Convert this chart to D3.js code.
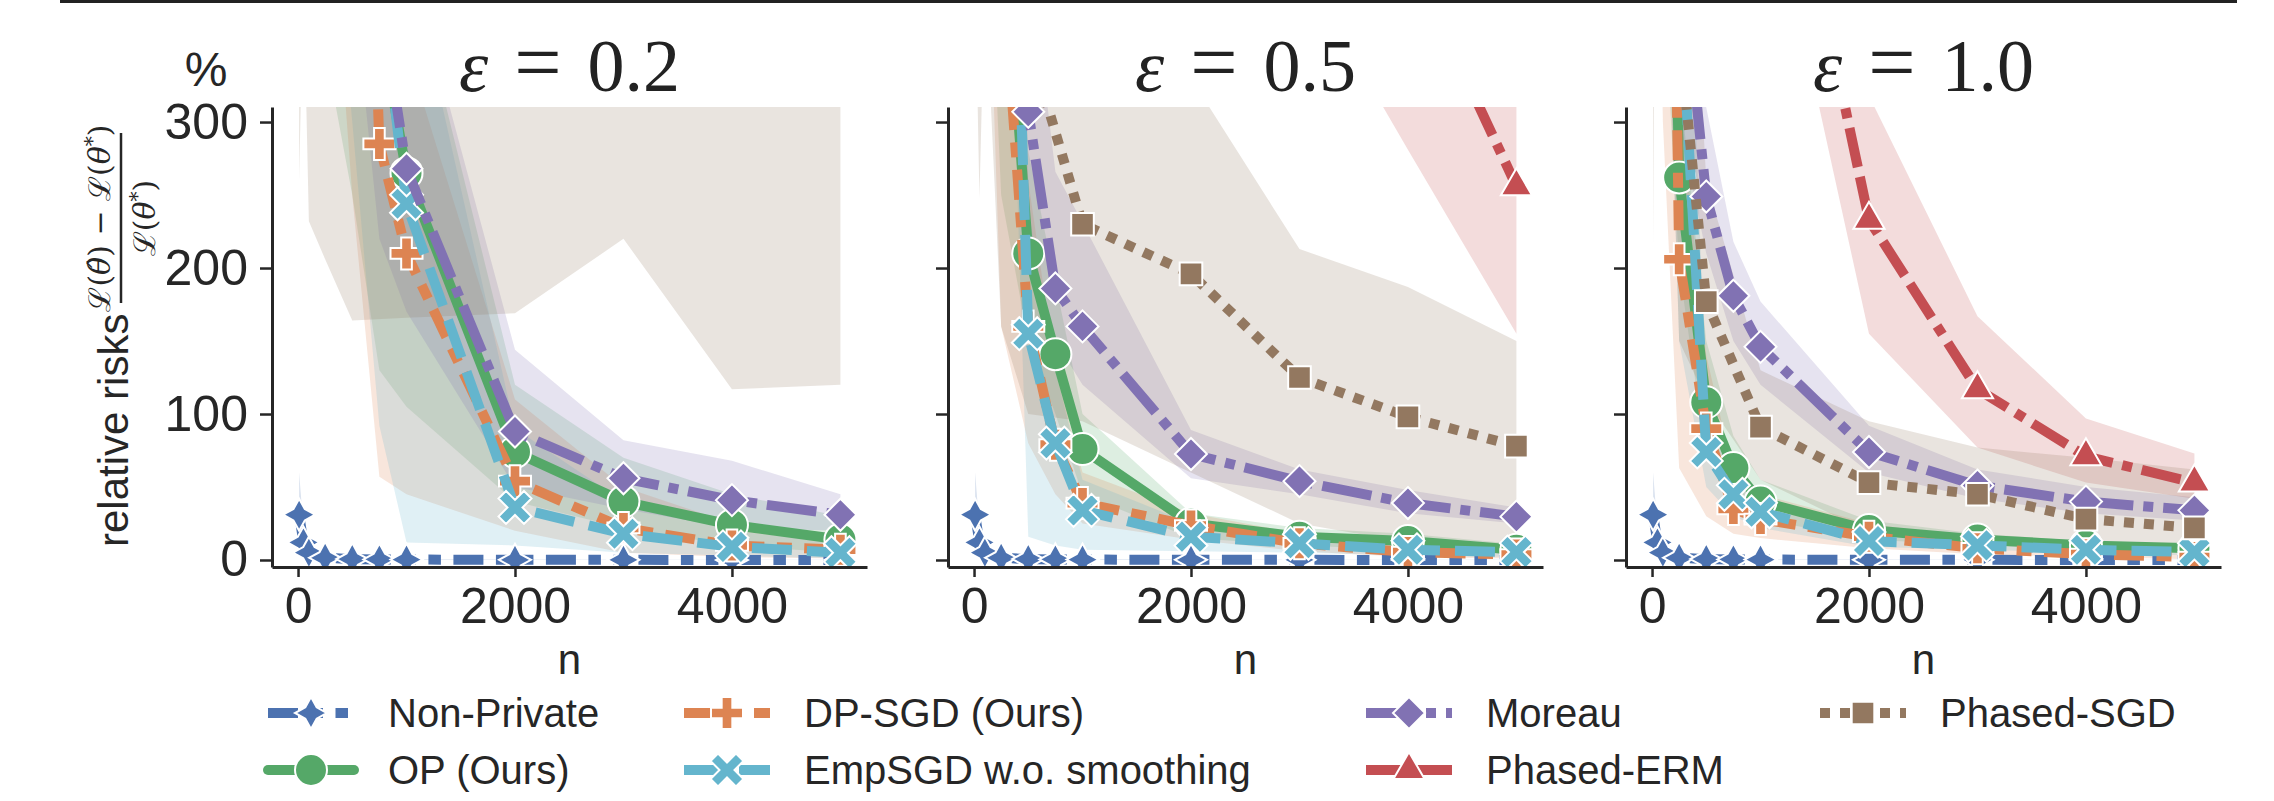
<!DOCTYPE html>
<html>
<head>
<meta charset="utf-8">
<script src="https://cdnjs.cloudflare.com/ajax/libs/d3/7.8.5/d3.min.js"></script>
<style>
  body { margin: 0; background: #fff; }
  svg { display: block; }
</style>
</head>
<body>
<div id="chart"></div>
<script>
const W = 2274
const H = 801

// sample sizes
const nValues = [10, 50, 100, 250, 500, 750, 1000, 2000, 3000, 4000, 5000]
const nPhased = [10, 50, 100, 250, 500, 1000, 2000, 3000, 4000, 5000]
const epsLabels = ["0.2", "0.5", "1.0"]
const xTicks = [0, 2000, 4000]
const yTicks = [0, 100, 200, 300]
const seriesNames = ["Non-Private", "OP (Ours)", "DP-SGD (Ours)", "EmpSGD w.o. smoothing", "Moreau", "Phased-ERM", "Phased-SGD"]

// each array: [eps 0.2, eps 0.5, eps 1.0], values in %
const npMean = [31, 12, 5, 1.5, 0.6, 0.4, 0.3, 0.1, 0.1, 0.05, 0.05]
const npLow = [10, 4, 2, 0.5, 0.2, 0.1, 0.1, 0, 0, 0, 0]
const npHigh = [60, 22, 9, 3, 1.2, 0.8, 0.6, 0.3, 0.2, 0.1, 0.1]
const nonPrivateMean = [npMean, npMean, npMean]
const nonPrivateLow = [npLow, npLow, npLow]
const nonPrivateHigh = [npHigh, npHigh, npHigh]

const opMean = [
  [3000, 1500, 1000, 700, 500, 370, 265, 74, 40, 24, 14],
  [2500, 1500, 1000, 460, 210, 141, 76, 25, 16, 13, 7],
  [2000, 1200, 800, 262, 108, 63, 40, 20.5, 14, 10, 8]]
const opLow = [
  [1500, 800, 500, 350, 250, 130, 105, 40, 22, 10, 5],
  [1200, 700, 500, 250, 150, 100, 45, 15, 10, 7, 4],
  [1000, 600, 400, 200, 70, 45, 28, 14, 10, 7, 6]]
const opHigh = [
  [5000, 2500, 1600, 1100, 800, 600, 420, 120, 70, 45, 30],
  [4000, 2500, 1600, 700, 280, 190, 100, 32, 22, 18, 11],
  [3500, 2000, 1300, 330, 150, 85, 55, 27, 18, 13, 10]]

const dpsgdMean = [
  [4000, 2500, 1800, 1200, 800, 285, 210, 54, 22, 10, 7],
  [3000, 1800, 1200, 420, 160, 79, 39, 23.6, 11.4, 5.4, 3.7],
  [2500, 1500, 1000, 206, 90, 35, 28, 16, 8, 4, 2]]
const dpsgdLow = [
  [2000, 1200, 900, 500, 250, 57, 45, 20, 5, 2, 1],
  [1500, 800, 500, 160, 80, 45, 25, 14, 6, 2, 1],
  [1000, 500, 300, 63, 30, 18, 15, 8, 4, 2, 0.5]]
const dpsgdHigh = [
  [6000, 4000, 3000, 2000, 1400, 500, 350, 110, 50, 25, 15],
  [5000, 3000, 2000, 700, 260, 130, 60, 32, 18, 10, 7],
  [4000, 2500, 1800, 320, 140, 60, 45, 25, 14, 8, 5]]

const empMean = [
  [4000, 2500, 1800, 1000, 700, 400, 244, 36, 18, 9, 5],
  [3500, 2000, 1400, 750, 155, 80, 34, 16, 11.4, 7, 5.4],
  [3000, 1800, 1200, 400, 74, 45, 33, 13, 10, 7, 5.4]]
const empLow = [
  [2000, 1200, 900, 500, 300, 92, 12, 10, 5, 3, 1],
  [1500, 800, 700, 600, 16, 10, 7, 6, 5, 3, 2],
  [1500, 800, 500, 150, 50, 30, 22, 9, 7, 5, 3]]
const empHigh = [
  [6000, 4000, 3000, 2000, 1200, 700, 420, 90, 40, 20, 12],
  [5000, 3000, 2000, 1200, 240, 130, 55, 25, 17, 11, 8],
  [4500, 3000, 2000, 600, 110, 65, 45, 18, 14, 10, 8]]

const moreauMean = [
  [4000, 2500, 1800, 1200, 700, 387, 268, 88, 56, 41, 31],
  [4000, 2500, 1800, 700, 307, 186, 160, 72.6, 54, 39, 29.7],
  [3500, 2000, 1400, 430, 249, 181, 146, 74, 51, 40, 34]]
const moreauLow = [
  [2000, 1200, 900, 600, 400, 220, 170, 50, 35, 22, 20],
  [2000, 1200, 900, 400, 200, 150, 120, 56, 45, 32, 25],
  [1800, 1000, 700, 300, 210, 150, 120, 60, 42, 32, 27]]
const moreauHigh = [
  [6000, 4000, 3000, 2000, 1100, 600, 420, 144, 82, 68, 45],
  [6000, 4000, 3000, 1100, 420, 266, 231, 89, 62, 48, 36],
  [5000, 3000, 2000, 600, 310, 218, 177, 92, 62, 50, 43]]

const phasedErmMean = [
  [5000, 4000, 3500, 3000, 2500, 2000, 1500, 1100, 900, 800],
  [5000, 4000, 3500, 3000, 2500, 1500, 1000, 700, 415, 256],
  [3000, 2500, 2000, 1500, 1000, 583, 233, 117, 71, 53]]
const phasedErmLow = [
  [3000, 2500, 2000, 1800, 1500, 1000, 700, 500, 400, 350],
  [3000, 2500, 2000, 1800, 1500, 900, 600, 409, 281, 155],
  [2000, 1800, 1500, 1100, 800, 493, 155, 77, 53, 42]]
const phasedErmHigh = [
  [8000, 7000, 6000, 5000, 4000, 3000, 2500, 2000, 1500, 1200],
  [8000, 7000, 6000, 5000, 4000, 3000, 2000, 1200, 700, 400],
  [5000, 4000, 3500, 2500, 1500, 800, 318, 167, 97, 73]]

const phasedSgdMean = [
  [3000, 2000, 1500, 1000, 800, 600, 500, 450, 400, 350],
  [2000, 1500, 1100, 600, 356, 230, 196, 125, 98, 78],
  [2000, 1500, 1000, 360, 177, 91, 53, 45, 28, 22]]
const phasedSgdLow = [
  [260, 400, 232, 206, 164, 166, 169, 220, 117, 120],
  [400, 248, 400, 160, 100, 95, 60, 25, 12, 8],
  [216, 700, 500, 150, 110, 55, 19, 15, 12, 10]]
const phasedSgdHigh = [
  [5000, 4000, 3000, 2500, 2000, 1500, 1200, 1000, 900, 800],
  [3000, 2500, 2000, 1200, 800, 500, 330, 213, 187, 150],
  [3000, 2500, 2000, 600, 260, 130, 95, 77, 70, 62]]

// plot order = legend order (column-major)
const series = [
  {name: seriesNames[0], n: nValues, mean: nonPrivateMean, low: nonPrivateLow, high: nonPrivateHigh, color: "#4C72B0", marker: "star", dash: [3, 1.25, 1.25, 1.25, 1.25, 1.25]},
  {name: seriesNames[1], n: nValues, mean: opMean, low: opLow, high: opHigh, color: "#55A868", marker: "circle", dash: null},
  {name: seriesNames[2], n: nValues, mean: dpsgdMean, low: dpsgdLow, high: dpsgdHigh, color: "#DD8452", marker: "plus", dash: [3, 1.25, 1.5, 1.25]},
  {name: seriesNames[3], n: nValues, mean: empMean, low: empLow, high: empHigh, color: "#64B5CD", marker: "x", dash: [4, 1.5]},
  {name: seriesNames[4], n: nValues, mean: moreauMean, low: moreauLow, high: moreauHigh, color: "#8172B3", marker: "diamond", dash: [5, 1, 1, 1]},
  {name: seriesNames[5], n: nPhased, mean: phasedErmMean, low: phasedErmLow, high: phasedErmHigh, color: "#C44E52", marker: "triangle", dash: [4, 1, 4, 1, 1, 1]},
  {name: seriesNames[6], n: nPhased, mean: phasedSgdMean, low: phasedSgdLow, high: phasedSgdHigh, color: "#937860", marker: "square", dash: [1, 1]}
]

const lw = 10
const panelLeft = [272, 948, 1626]
const panelW = 595
const plotTop = 107
const plotBottom = 567
const textColor = "#262626"
const sans = "'Liberation Sans', Arial, sans-serif"
const serif = "'Liberation Serif', 'Times New Roman', serif"

function poly(pts) {
  return "M" + pts.map(p => p[0].toFixed(2) + "," + p[1].toFixed(2)).join("L") + "Z"
}

function markerPath(type) {
  const r = 16
  if (type === "circle") return d3.symbol(d3.symbolCircle, Math.PI * r * r)()
  if (type === "diamond") return poly([[0, -r], [r, 0], [0, r], [-r, 0]])
  if (type === "square") {
    const s = r / Math.SQRT2
    return poly([[-s, -s], [s, -s], [s, s], [-s, s]])
  }
  if (type === "triangle") {
    const t = 18
    return poly([[0, -t], [t * 0.866, t * 0.5], [-t * 0.866, t * 0.5]])
  }
  if (type === "star") {
    const pts = []
    for (let k = 0; k < 8; k++) {
      const a = -Math.PI / 2 + k * Math.PI / 4
      const rr = k % 2 === 0 ? r : r * 0.5
      pts.push([rr * Math.cos(a), rr * Math.sin(a)])
    }
    return poly(pts)
  }
  const a = type === "x" ? 18 : r
  const b = type === "x" ? 5.3 : r / 3
  let pts = [[-b, -a], [b, -a], [b, -b], [a, -b], [a, b], [b, b], [b, a], [-b, a], [-b, b], [-a, b], [-a, -b], [-b, -b]]
  if (type === "x") {
    const c = Math.SQRT1_2
    pts = pts.map(p => [c * (p[0] - p[1]), c * (p[0] + p[1])])
  }
  return poly(pts)
}

const svg = d3.select("#chart").append("svg")
  .attr("width", W)
  .attr("height", H)
  .attr("font-family", sans)

// rule at the top of the figure
svg.append("line")
  .attr("x1", 60).attr("x2", 2237)
  .attr("y1", 1.5).attr("y2", 1.5)
  .attr("stroke", "#222").attr("stroke-width", 3)

const y = d3.scaleLinear().domain([-4.8, 310.3]).range([plotBottom, plotTop])

epsLabels.forEach((eps, p) => {
  const left = panelLeft[p]
  const x = d3.scaleLinear().domain([-240, 5245]).range([left, left + panelW])
  const g = svg.append("g")

  g.append("clipPath").attr("id", "clip" + p)
    .append("rect")
    .attr("x", left).attr("y", plotTop)
    .attr("width", panelW).attr("height", plotBottom - plotTop)

  const plot = g.append("g").attr("clip-path", "url(#clip" + p + ")")

  // confidence bands first
  series.forEach(s => {
    const rows = s.n.map((n, i) => ({n, lo: s.low[p][i], hi: s.high[p][i]}))
    plot.append("path")
      .datum(rows)
      .attr("d", d3.area().x(d => x(d.n)).y0(d => y(d.lo)).y1(d => y(d.hi)))
      .attr("fill", s.color)
      .attr("fill-opacity", 0.2)
  })

  // lines and markers
  series.forEach(s => {
    const rows = s.n.map((n, i) => ({n, v: s.mean[p][i]}))
    plot.append("path")
      .datum(rows)
      .attr("d", d3.line().x(d => x(d.n)).y(d => y(d.v)))
      .attr("fill", "none")
      .attr("stroke", s.color)
      .attr("stroke-width", lw)
      .attr("stroke-linejoin", "round")
      .attr("stroke-linecap", s.dash ? "butt" : "round")
      .attr("stroke-dasharray", s.dash ? s.dash.map(d => d * lw).join(",") : null)
    plot.selectAll(null)
      .data(rows)
      .enter()
      .append("path")
      .attr("transform", d => "translate(" + x(d.n) + "," + y(d.v) + ")")
      .attr("d", markerPath(s.marker))
      .attr("fill", s.color)
      .attr("stroke", "#fff")
      .attr("stroke-width", 2)
  })

  // axes
  const xAxis = g.append("g")
    .attr("transform", "translate(0," + plotBottom + ")")
    .call(d3.axisBottom(x).tickValues(xTicks).tickSize(10).tickSizeOuter(0).tickPadding(10).tickFormat(d3.format("d")))
  const yAxis = g.append("g")
    .attr("transform", "translate(" + left + ",0)")
    .call(d3.axisLeft(y).tickValues(yTicks).tickSize(12).tickSizeOuter(0).tickPadding(12)
      .tickFormat(p === 0 ? d3.format("d") : ""))
  ;[xAxis, yAxis].forEach(a => {
    a.select(".domain").attr("stroke", textColor).attr("stroke-width", 3)
    a.selectAll(".tick line").attr("stroke", textColor).attr("stroke-width", 2.5)
    a.selectAll(".tick text").attr("fill", textColor).attr("font-size", 50).attr("font-family", sans)
  })

  // panel title
  const title = g.append("text")
    .attr("x", left + panelW / 2)
    .attr("y", 91)
    .attr("text-anchor", "middle")
    .attr("font-family", serif)
    .attr("font-size", 74)
    .attr("fill", "#222")
  title.append("tspan").attr("font-style", "italic").text("ε")
  title.append("tspan").attr("dx", 26).attr("font-size", 84).text("=")
  title.append("tspan").attr("dx", 26).text(eps)

  g.append("text")
    .attr("x", left + panelW / 2)
    .attr("y", 674)
    .attr("text-anchor", "middle")
    .attr("font-size", 42)
    .attr("fill", textColor)
    .text("n")
})

// unit above the y axis
svg.append("text")
  .attr("x", 206).attr("y", 86)
  .attr("text-anchor", "middle")
  .attr("font-size", 48)
  .attr("fill", textColor)
  .text("%")

// y label with the fraction, rotated
const yl = svg.append("g").attr("transform", "translate(128,340) rotate(-90)")
yl.append("text")
  .attr("x", -207).attr("y", 0)
  .attr("font-size", 42)
  .attr("fill", textColor)
  .text("relative risks")
yl.append("line")
  .attr("x1", 37).attr("x2", 207)
  .attr("y1", -7).attr("y2", -7)
  .attr("stroke", textColor).attr("stroke-width", 2.5)
const num = yl.append("text")
  .attr("x", 122).attr("y", -18)
  .attr("text-anchor", "middle")
  .attr("font-family", "'DejaVu Serif', serif")
  .attr("font-size", 30)
  .attr("fill", textColor)
num.append("tspan").text("ℒ(")
num.append("tspan").attr("font-style", "italic").text("θ\u0302")
num.append("tspan").text(") − ℒ(")
num.append("tspan").attr("font-style", "italic").text("θ")
num.append("tspan").attr("dy", -11).attr("font-size", 20).text("*")
num.append("tspan").attr("dy", 11).text(")")
const den = yl.append("text")
  .attr("x", 122).attr("y", 27)
  .attr("text-anchor", "middle")
  .attr("font-family", "'DejaVu Serif', serif")
  .attr("font-size", 30)
  .attr("fill", textColor)
den.append("tspan").text("ℒ(")
den.append("tspan").attr("font-style", "italic").text("θ")
den.append("tspan").attr("dy", -11).attr("font-size", 20).text("*")
den.append("tspan").attr("dy", 11).text(")")

// legend, filled column by column
const legendCols = [268, 684, 1366, 1820]
const legendRows = [727, 784]
const legend = svg.append("g")
series.forEach((s, i) => {
  const cx = legendCols[Math.floor(i / 2)]
  const by = legendRows[i % 2]
  const hy = by - 14
  const item = legend.append("g")
  item.append("line")
    .attr("x1", cx).attr("x2", cx + 86)
    .attr("y1", hy).attr("y2", hy)
    .attr("stroke", s.color)
    .attr("stroke-width", lw)
    .attr("stroke-linecap", s.dash ? "butt" : "round")
    .attr("stroke-dasharray", s.dash ? s.dash.map(d => d * lw).join(",") : null)
  item.append("path")
    .attr("transform", "translate(" + (cx + 43) + "," + hy + ")")
    .attr("d", markerPath(s.marker))
    .attr("fill", s.color)
    .attr("stroke", "#fff")
    .attr("stroke-width", 2)
  item.append("text")
    .attr("x", cx + 120)
    .attr("y", by)
    .attr("font-size", 40)
    .attr("fill", textColor)
    .text(s.name)
})
</script>
</body>
</html>
